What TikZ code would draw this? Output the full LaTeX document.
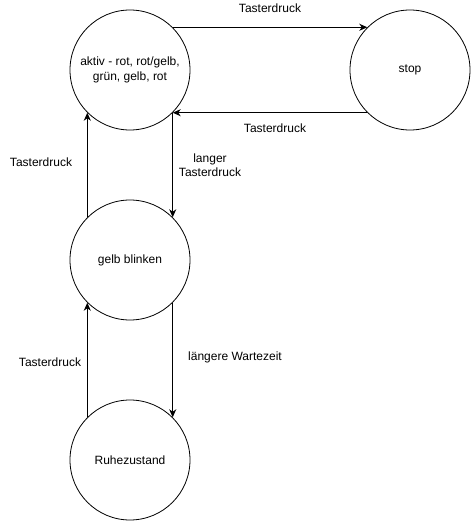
\documentclass[tikz,border=0pt]{standalone}
\usepackage{fontspec}
\setmainfont{Liberation Sans}
\usetikzlibrary{arrows.meta}

\begin{document}
\begin{tikzpicture}[x=1pt, y=-1pt, line width=0.8pt,
  font=\fontsize{12}{14.5}\selectfont,
  state/.style={draw, circle, minimum size=120pt, inner sep=0pt, align=center},
  trans/.style={-{Stealth[length=8pt, width=7pt, inset=2.5pt]}}]
  \useasboundingbox (0,0) rectangle (471,521);
  % states
  \node[state] (aktiv) at (130,70) {aktiv - rot, rot/gelb,\\grün, gelb, rot};
  \node[state] (stop) at (410,70) {stop};
  \node[state] (gelb) at (130,260) {gelb blinken};
  \node[state] (ruhe) at (130,460) {Ruhezustand};
  % transitions
  \draw[trans] (aktiv.45) -- (stop.135);
  \draw[trans] (stop.225) -- (aktiv.-45);
  \draw[trans] (aktiv.-45) -- (gelb.45);
  \draw[trans] (gelb.135) -- (aktiv.-135);
  \draw[trans] (gelb.-45) -- (ruhe.45);
  \draw[trans] (ruhe.135) -- (gelb.-135);
  % labels
  \node (lstop) at (270,8) {Tasterdruck};
  \node (lback) at (275,128) {Tasterdruck};
  \node (lauf) at (41,162) {Tasterdruck};
  \node[align=center] (llang) at (210,165) {langer\\Tasterdruck};
  \node (lwach) at (50,362) {Tasterdruck};
  \node (lwart) at (235,357) {längere Wartezeit};
\end{tikzpicture}
\end{document}
